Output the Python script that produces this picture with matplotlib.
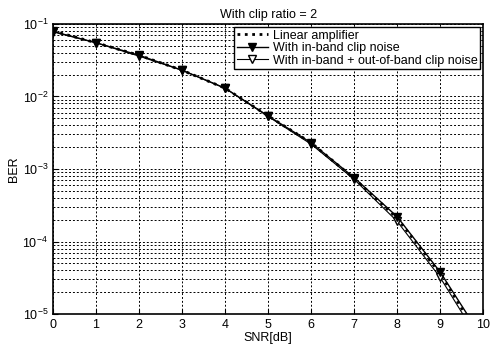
import numpy as np
import matplotlib.pyplot as plt

plt.rcParams['font.family'] = ['Liberation Sans', 'DejaVu Sans']

snr = [0, 1, 2, 3, 4, 5, 6, 7, 8, 9, 10]
ber_linear = [0.080, 0.055, 0.037, 0.023, 0.013, 0.0054, 0.0023, 7.4e-4, 2.1e-4, 3.6e-5, 4.0e-6]
ber_inband = [0.078, 0.055, 0.037, 0.023, 0.013, 0.0054, 0.0023, 7.6e-4, 2.2e-4, 3.8e-5, 4.5e-6]
ber_inout = [0.079, 0.055, 0.036, 0.023, 0.013, 0.0053, 0.0022, 7.2e-4, 1.9e-4, 3.2e-5, 3.5e-6]

fig = plt.figure(figsize=(4.91, 3.47), dpi=100)
ax = fig.add_axes([0.108, 0.095, 0.876, 0.836])

ax.semilogy(snr, ber_linear, color='k', linestyle=':', linewidth=2.0,
            label='Linear amplifier', zorder=3)
ax.semilogy(snr, ber_inband, color='k', linestyle='-', linewidth=1.0,
            marker='v', markersize=6, markerfacecolor='k',
            label='With in-band clip noise', zorder=5)
ax.semilogy(snr, ber_inout, color='k', linestyle='-', linewidth=0.8,
            marker='v', markersize=6, markerfacecolor='white',
            label='With in-band + out-of-band clip noise', zorder=4)

ax.set_xlim(0, 10)
ax.set_ylim(1e-5, 1e-1)
ax.set_xticks(range(11))
ax.grid(True, which='both', color='k', linestyle=(0, (2, 2)), linewidth=0.7)
ax.tick_params(labelsize=9, direction='in', which='both')
ax.tick_params(which='minor', length=0)

ax.set_title('With clip ratio = 2', fontsize=9, pad=4)
ax.set_xlabel('SNR[dB]', fontsize=9, labelpad=1)
ax.set_ylabel('BER', fontsize=9, labelpad=2)

leg = ax.legend(loc='upper right', fontsize=9, frameon=True, fancybox=False,
                borderaxespad=0.25, handlelength=2.5, handletextpad=0.4,
                labelspacing=0.05, borderpad=0.2)
leg.get_frame().set_edgecolor('k')
leg.get_frame().set_linewidth(1.0)
leg.get_frame().set_alpha(1)
leg.set_zorder(10)

for s in ax.spines.values():
    s.set_linewidth(1.2)

fig.savefig('out.png', dpi=100)
